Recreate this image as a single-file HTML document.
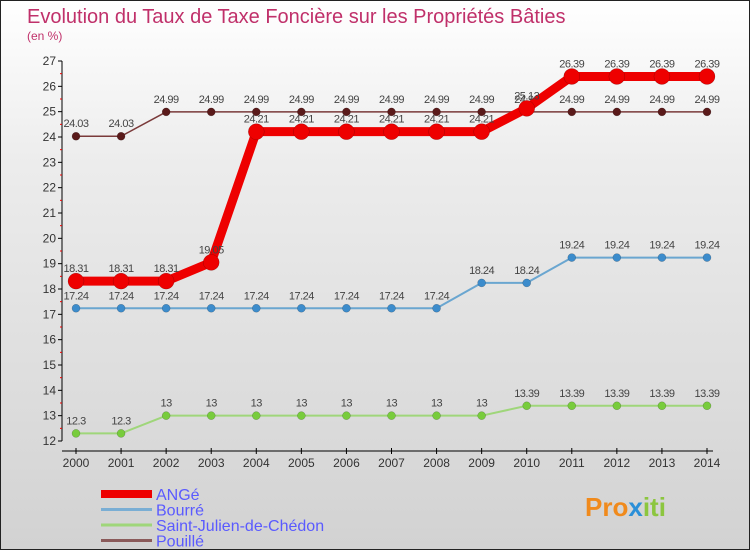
<!DOCTYPE html>
<html><head><meta charset="utf-8"><style>
body{margin:0}
#wrap{width:750px;height:550px;position:relative;box-sizing:border-box;border:1px solid #222;background:linear-gradient(#fff 0%,#ececec 30%,#d2d2d2 100%);font-family:"Liberation Sans",sans-serif;overflow:hidden}
text{font-family:"Liberation Sans",sans-serif}
</style></head><body>
<div id="wrap">
<svg id="c" width="750" height="550">
<text x="26" y="22" font-size="20" fill="#c0306a">Evolution du Taux de Taxe Foncière sur les Propriétés Bâties</text>
<text x="26" y="39" font-size="12" fill="#c0306a">(en %)</text>
<text x="584" y="515" font-size="26" font-weight="bold" fill="#f08a1c">Pro<tspan fill="#2a8fd8">x</tspan><tspan fill="#8cc63f">iti</tspan></text>
</svg>
</div>
<script>
const years=[2000,2001,2002,2003,2004,2005,2006,2007,2008,2009,2010,2011,2012,2013,2014];
const yTicks=[12,13,14,15,16,17,18,19,20,21,22,23,24,25,26,27];
const angeVals=[18.31,18.31,18.31,19.05,24.21,24.21,24.21,24.21,24.21,24.21,25.13,26.39,26.39,26.39,26.39];
const bourreVals=[17.24,17.24,17.24,17.24,17.24,17.24,17.24,17.24,17.24,18.24,18.24,19.24,19.24,19.24,19.24];
const sjVals=[12.3,12.3,13,13,13,13,13,13,13,13,13.39,13.39,13.39,13.39,13.39];
const pouilleVals=[24.03,24.03,24.99,24.99,24.99,24.99,24.99,24.99,24.99,24.99,24.99,24.99,24.99,24.99,24.99];
const seriesNames=["ANGé","Bourré","Saint-Julien-de-Chédon","Pouillé"];
const NS="http://www.w3.org/2000/svg";
const svg=document.getElementById('c');
const X=i=>75+i*(706-75)/(years.length-1);
const Y=v=>440-(v-12)*(440-60)/15;
function el(t,a,p){const e=document.createElementNS(NS,t);for(const k in a)e.setAttribute(k,a[k]);(p||svg).appendChild(e);return e;}
function fmt(v){return String(v);}
let ax=el('g',{});


el('line',{x1:61,y1:60,x2:61,y2:440,stroke:'#000','stroke-width':1},ax);
el('line',{x1:61,y1:450,x2:712,y2:450,stroke:'#000','stroke-width':1},ax);
yTicks.forEach(t=>{
 el('line',{x1:57,x2:61,y1:Y(t),y2:Y(t),stroke:'#000'},ax);
 if(t<27)el('line',{x1:59,x2:61,y1:Y(t+0.5),y2:Y(t+0.5),stroke:'#e00'},ax);
 const tx=el('text',{x:55,y:Y(t)+4,'text-anchor':'end','font-size':12,fill:'#333'},ax);
 tx.textContent=t;
 
 
});
years.forEach((yr,i)=>{
 el('line',{x1:X(i),x2:X(i),y1:447,y2:453,stroke:'#000'},ax);
 const tx=el('text',{x:X(i),y:466,'text-anchor':'middle','font-size':12,fill:'#333'},ax);
 tx.textContent=yr;
 
 
});
function series(vals,color,w,r,name,dot){
 const g=el('g',{});
 
 
 el('polyline',{points:vals.map((v,i)=>X(i)+','+Y(v)).join(' '),fill:'none',stroke:color,'stroke-width':w,'stroke-linejoin':'round'},g);
 vals.forEach((v,i)=>{
  const c=el('circle',{cx:X(i),cy:Y(v),r:r,fill:dot,stroke:'rgba(0,0,0,0.3)','stroke-width':0.5},g);
  
  
  const t=el('text',{x:X(i),y:Y(v)-9,'text-anchor':'middle','font-size':11,fill:'#444','letter-spacing':'-0.5'},g);
  t.textContent=fmt(v);
  
  
 });
}
series(sjVals,'#9fd67a',2,4,'series-saint-julien','#78cc3c');
series(bourreVals,'#6aa6d0',2,4,'series-bourre','#3c8ccc');
series(pouilleVals,'#7a3a3a',1.5,4,'series-pouille','#5a1a1a');
series(angeVals,'#ee0000',9,8,'series-ange','#ee0000');
const lg=el('g',{});


const lc=['#ee0000','#7aaed4','#9fd67a','#8a5a5a'];
const lw=[8,3,3,3];
seriesNames.forEach((n,i)=>{
 const y=493+i*15.5;
 const g=el('g',{},lg);
 
 
 el('line',{x1:100,x2:151,y1:y,y2:y,stroke:lc[i],'stroke-width':lw[i]},g);
 const t=el('text',{x:155,y:y+6,'font-size':16,fill:'#5a5aff'},g);
 t.textContent=n;
});
</script>
</body></html>
